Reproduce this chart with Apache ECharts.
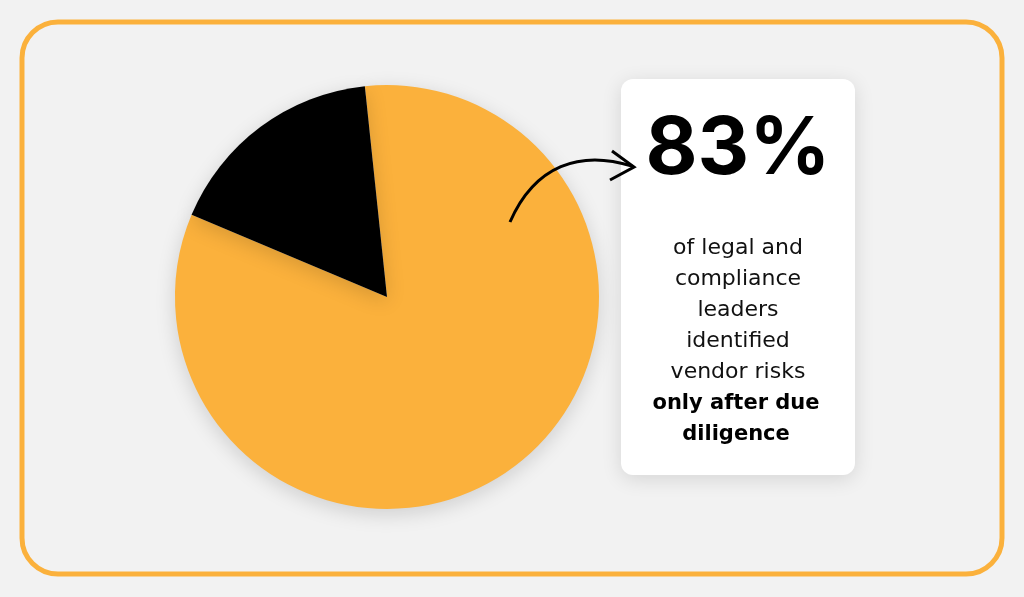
<!DOCTYPE html><html><head><meta charset="utf-8">
<script src="https://cdn.jsdelivr.net/npm/echarts@6/dist/echarts.min.js"></script>
<style>html,body{margin:0;padding:0;background:#f2f2f2}#c{width:1024px;height:597px}</style></head><body><div id="c"></div>
<script>
const categories=['Identified risks only after due diligence','Other'];
const values=[83,17];
const colors=['#fbb13c','#000000'];
const chart=echarts.init(document.getElementById('c'));
chart.setOption({
 backgroundColor:'#f2f2f2',
 animation:false,
 graphic:[
  {type:'rect',shape:{x:22,y:22,width:980,height:552,r:36},style:{fill:'#f2f2f2',stroke:'#fbb13c',lineWidth:5},z:-10},
  {type:'rect',shape:{x:621,y:79,width:234,height:396,r:12},style:{fill:'#ffffff',shadowBlur:20,shadowColor:'rgba(0,0,0,0.12)',shadowOffsetY:4},z:1},
  {type:'text',x:738,y:110,style:{text:'83%',font:'bold 80px Inter',fill:'#000',align:'center'},z:2},
  {type:'text',x:738,y:233,style:{text:'of legal and\ncompliance\nleaders\nidentified\nvendor risks',font:'22px "DejaVu Sans"',fill:'#111',align:'center',lineHeight:31},z:2},
  {type:'text',x:736,y:388,style:{text:'only after due\ndiligence',font:'bold 21px "DejaVu Sans"',fill:'#000',align:'center',lineHeight:31},z:2},
  {type:'bezierCurve',shape:{x1:510,y1:222,cpx1:535,cpy1:165,cpx2:580,cpy2:150,x2:632,y2:166},style:{stroke:'#000',lineWidth:3,fill:'none'},z:3},
  {type:'polyline',shape:{points:[[612,151],[634,167],[610,180]]},style:{stroke:'#000',lineWidth:3,fill:'none'},z:3}
 ],
 series:[{type:'pie',center:[387,297],radius:212,startAngle:96,clockwise:true,label:{show:false},labelLine:{show:false},silent:true,
  itemStyle:{shadowBlur:20,shadowColor:'rgba(0,0,0,0.15)',shadowOffsetY:5},
  data:categories.map((n,i)=>({name:n,value:values[i],itemStyle:{color:colors[i]}}))}]
});
</script></body></html>
